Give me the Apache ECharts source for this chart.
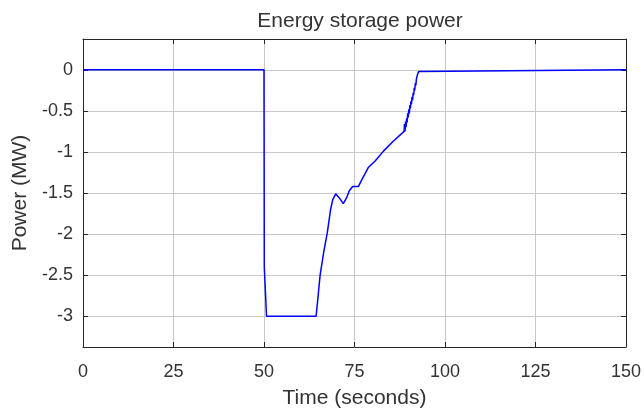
<!DOCTYPE html>
<html>
<head>
<meta charset="utf-8">
<script src="https://cdn.jsdelivr.net/npm/echarts@6/dist/echarts.min.js"></script>
<style>
html,body{margin:0;padding:0;background:#fff;}
#chart{width:644px;height:412px;}
</style>
</head>
<body>
<div id="chart"></div>
<script>
var timeSec = [0, 50, 50.08, 50.7, 64.4, 65.5, 66.5, 67.5, 68.4, 69.0, 69.8, 70.8, 71.9, 72.8, 73.6, 74.5, 76.1, 77.0, 78.8, 80.7, 83.0, 85.7, 88.7,
  88.8, 88.95, 89.1, 89.25, 89.4, 89.55, 89.7, 89.85, 90.0, 90.15, 90.3, 90.45, 90.6, 90.75, 90.9, 91.05, 91.2, 91.35, 91.5, 91.65, 91.8, 91.95, 92.1, 92.25, 92.4, 92.55, 92.7, 92.9, 150];
var powerMW = [0, 0, -2.4, -3, -3, -2.5, -2.22, -1.98, -1.70, -1.58, -1.51, -1.56, -1.63, -1.56, -1.47, -1.42, -1.42, -1.34, -1.19, -1.11, -0.99, -0.87, -0.75,
  -0.66, -0.75, -0.63, -0.70, -0.59, -0.64, -0.53, -0.58, -0.48, -0.53, -0.43, -0.47, -0.38, -0.42, -0.33, -0.37, -0.28, -0.31, -0.22, -0.25, -0.16, -0.19, -0.11, -0.13, -0.06, -0.07, -0.02, 0, 0];
var xTicks = [0, 25, 50, 75, 100, 125, 150];
var yTicks = [-3, -2.5, -2, -1.5, -1, -0.5, 0];

var textColor = '#333333';
var font = 'Liberation Sans, Arial, sans-serif';
var chart = echarts.init(document.getElementById('chart'));
var data = timeSec.map(function (t, i) { return [t, powerMW[i]]; });

function yAxisDef(pos, showLabels) {
  return {
    type: 'value', position: pos, min: -3.375, max: 0.375,
    axisLine: { show: true, onZero: false, lineStyle: { color: '#262626', width: 1 } },
    axisTick: { show: true, inside: true, length: 5, customValues: yTicks, lineStyle: { color: '#262626' } },
    axisLabel: { show: showLabels, customValues: yTicks, color: textColor, fontSize: 18, fontFamily: font, margin: 10 },
    splitLine: { show: showLabels, lineStyle: { color: '#c8c8c8', width: 1 } },
    name: showLabels ? 'Power (MW)' : '', nameLocation: 'middle', nameGap: 45,
    nameTextStyle: { color: textColor, fontSize: 21, fontFamily: font }
  };
}
function xAxisDef(pos, showLabels) {
  return {
    type: 'value', position: pos, min: 0, max: 150, interval: 25,
    axisLine: { show: true, onZero: false, lineStyle: { color: '#262626', width: 1 } },
    axisTick: { show: true, inside: true, length: 5, customValues: xTicks, lineStyle: { color: '#262626' } },
    axisLabel: { show: showLabels, customValues: xTicks, color: textColor, fontSize: 18, fontFamily: font, margin: 16 },
    splitLine: { show: showLabels, lineStyle: { color: '#c8c8c8', width: 1 } },
    name: showLabels ? 'Time (seconds)' : '', nameLocation: 'middle', nameGap: 41,
    nameTextStyle: { color: textColor, fontSize: 21, fontFamily: font }
  };
}

chart.setOption({
  animation: false,
  backgroundColor: '#ffffff',
  title: {
    text: 'Energy storage power', left: 355, textAlign: 'center', top: 6,
    textStyle: { color: textColor, fontSize: 21, fontWeight: 'normal', fontFamily: font }
  },
  grid: { left: 83, right: 18, top: 39, bottom: 65, containLabel: false, outerBoundsMode: 'none' },
  xAxis: [xAxisDef('bottom', true), xAxisDef('top', false)],
  yAxis: [yAxisDef('left', true), yAxisDef('right', false)],
  series: [{
    type: 'line', data: data, xAxisIndex: 0, yAxisIndex: 0,
    showSymbol: false, symbol: 'none',
    lineStyle: { color: '#0000ff', width: 1.5 },
    itemStyle: { color: '#0000ff' }
  }]
});
</script>
</body>
</html>
